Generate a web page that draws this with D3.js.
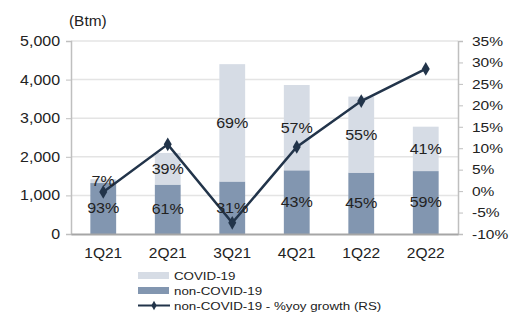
<!DOCTYPE html>
<html>
<head>
	<meta charset="utf-8">
	<script src="https://cdn.jsdelivr.net/npm/d3@7"></script>
	<style>
		body { margin: 0; background: #fff; }
		text { font-family: "Liberation Sans", Arial, sans-serif; fill: #222; transform-box: fill-box; }
	</style>
</head>
<body>
	<svg id="chart" width="515" height="314"></svg>

	<script type="text/javascript">
		// data
		var quarters = ["1Q21", "2Q21", "3Q21", "4Q21", "1Q22", "2Q22"];
		var nonCovid = [1320, 1280, 1360, 1650, 1590, 1630];
		var covid = [100, 820, 3040, 2210, 1970, 1150];
		var covidPct = ["7%", "39%", "69%", "57%", "55%", "41%"];
		var nonCovidPct = ["93%", "61%", "31%", "43%", "45%", "59%"];
		var yoyGrowth = [-0.2, 10.9, -7.4, 10.3, 21.0, 28.5];
		var leftTicks = [0, 1000, 2000, 3000, 4000, 5000];
		var rightTicks = [-10, -5, 0, 5, 10, 15, 20, 25, 30, 35];

		var svg = d3.select("#chart");
		var plotLeft = 71, plotRight = 458, plotTop = 41, plotBottom = 234;

		// the source image has its text a bit wider than normal
		function stretch(sel, k, origin) {
			sel.style("transform-origin", origin).style("transform", "scaleX(" + k + ")");
		}

		var x = d3.scaleBand().domain(quarters).range([plotLeft, plotRight]).paddingInner(0.6).paddingOuter(0.3);
		var y = d3.scaleLinear().domain([0, 5000]).range([plotBottom, plotTop]);
		var y2 = d3.scaleLinear().domain([-10, 35]).range([plotBottom, plotTop]);

		// gridlines
		svg.append("g").selectAll("line")
			.data(leftTicks.slice(1))
			.enter().append("line")
			.attr("x1", plotLeft).attr("x2", plotRight)
			.attr("y1", function(d) { return y(d); })
			.attr("y2", function(d) { return y(d); })
			.attr("stroke", "#e4e4e4").attr("stroke-width", 1.5);

		// bars
		var bars = svg.append("g");
		bars.selectAll("rect.non")
			.data(quarters)
			.enter().append("rect")
			.attr("class", "non")
			.attr("x", function(d) { return x(d); })
			.attr("width", x.bandwidth())
			.attr("y", function(d, i) { return y(nonCovid[i]); })
			.attr("height", function(d, i) { return y(0) - y(nonCovid[i]); })
			.attr("fill", "#8296b0");
		bars.selectAll("rect.cov")
			.data(quarters)
			.enter().append("rect")
			.attr("class", "cov")
			.attr("x", function(d) { return x(d); })
			.attr("width", x.bandwidth())
			.attr("y", function(d, i) { return y(nonCovid[i] + covid[i]); })
			.attr("height", function(d, i) { return y(nonCovid[i]) - y(nonCovid[i] + covid[i]); })
			.attr("fill", "#d6dce5");

		// axes
		var axisColor = "#bfbfbf";
		var gl = svg.append("g").attr("transform", "translate(" + plotLeft + ",0)")
			.call(d3.axisLeft(y).tickValues(leftTicks).tickSize(5).tickPadding(6).tickFormat(d3.format(",")));
		var gr = svg.append("g").attr("transform", "translate(" + plotRight + ",0)")
			.call(d3.axisRight(y2).tickValues(rightTicks).tickSize(5).tickPadding(9).tickFormat(function(d) { return d + "%"; }));
		var gb = svg.append("g").attr("transform", "translate(0," + plotBottom + ")")
			.call(d3.axisBottom(x).tickSize(0).tickPadding(13));
		[gl, gr, gb].forEach(function(g) {
			g.selectAll("path").attr("stroke", axisColor).attr("stroke-width", 1.5);
			g.selectAll("line").attr("stroke", axisColor);
			g.selectAll("text").attr("fill", "#222");
		});
		gl.selectAll("text").style("font-size", "14px").call(stretch, 1.14, "right center");
		gr.selectAll("text").style("font-size", "13.5px").call(stretch, 1.15, "left center");
		gb.selectAll("text").style("font-size", "15.5px");
		gb.select("path").attr("stroke", "#a6a6a6").attr("stroke-width", 2);

		svg.append("text").attr("x", 69).attr("y", 26).style("font-size", "14px").text("(Btm)")
			.call(stretch, 1.1, "left center");

		// growth line
		var line = d3.line()
			.x(function(d, i) { return x(quarters[i]) + x.bandwidth() / 2; })
			.y(function(d) { return y2(d); });
		svg.append("path").datum(yoyGrowth)
			.attr("d", line).attr("fill", "none")
			.attr("stroke", "#22344a").attr("stroke-width", 2.5);
		var diamond = d3.symbol().type(d3.symbolDiamond).size(55);
		svg.append("g").selectAll("path")
			.data(yoyGrowth)
			.enter().append("path")
			.attr("d", diamond)
			.attr("transform", function(d, i) { return "translate(" + (x(quarters[i]) + x.bandwidth() / 2) + "," + y2(d) + ")"; })
			.attr("fill", "#22344a");

		// percentage labels
		var lab = svg.append("g").style("font-size", "14px").attr("text-anchor", "middle");
		lab.selectAll("text.c")
			.data(covidPct)
			.enter().append("text")
			.attr("x", function(d, i) { return x(quarters[i]) + x.bandwidth() / 2; })
			.attr("y", function(d, i) { return y(nonCovid[i] + covid[i] / 2); })
			.attr("dy", "0.35em")
			.text(function(d) { return d; })
			.call(stretch, 1.15, "center");
		lab.selectAll("text.n")
			.data(nonCovidPct)
			.enter().append("text")
			.attr("x", function(d, i) { return x(quarters[i]) + x.bandwidth() / 2; })
			.attr("y", function(d, i) { return y(nonCovid[i] / 2); })
			.attr("dy", "0.35em")
			.text(function(d) { return d; })
			.call(stretch, 1.15, "center");

		// legend
		var legend = svg.append("g").style("font-size", "11.5px");
		legend.append("rect").attr("x", 138).attr("y", 272).attr("width", 31).attr("height", 7).attr("fill", "#d6dce5");
		legend.append("text").attr("x", 174).attr("y", 280).text("COVID-19");
		legend.append("rect").attr("x", 138).attr("y", 287).attr("width", 31).attr("height", 7).attr("fill", "#8296b0");
		legend.append("text").attr("x", 174).attr("y", 295).text("non-COVID-19");
		legend.append("line").attr("x1", 138).attr("x2", 170).attr("y1", 305.5).attr("y2", 305.5)
			.attr("stroke", "#22344a").attr("stroke-width", 2);
		legend.append("path").attr("d", d3.symbol().type(d3.symbolDiamond).size(25))
			.attr("transform", "translate(154,305.5)").attr("fill", "#22344a");
		legend.append("text").attr("x", 174).attr("y", 310).text("non-COVID-19 - %yoy growth (RS)");
		legend.selectAll("text").call(stretch, 1.16, "left center");
	</script>
</body>
</html>
